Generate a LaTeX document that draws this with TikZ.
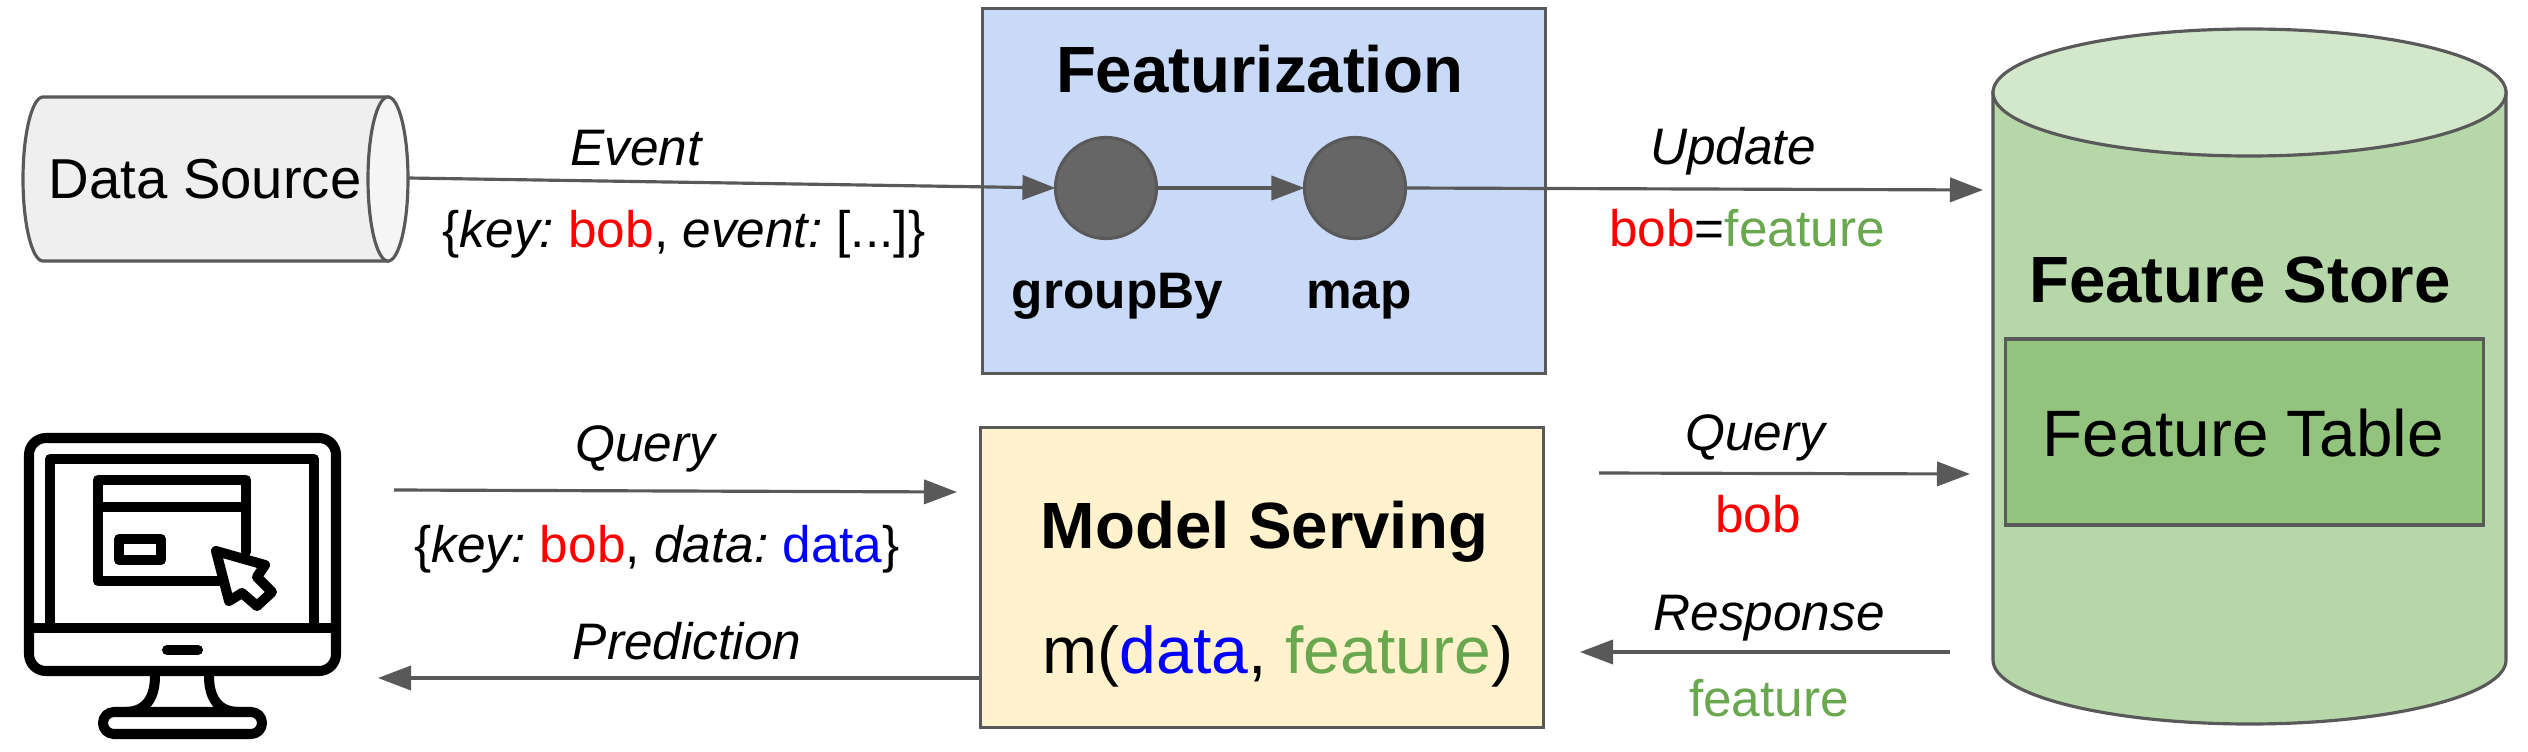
\documentclass[tikz,border=0pt]{standalone}
\usepackage{fontspec}
\setmainfont{Liberation Sans}
\usetikzlibrary{arrows.meta,shapes.geometric}
\definecolor{ln}{HTML}{595959}
\definecolor{bluebox}{HTML}{C9DAF8}
\definecolor{yellowbox}{HTML}{FFF2CC}
\definecolor{gryfill}{HTML}{EFEFEF}
\definecolor{gryend}{HTML}{F5F5F5}
\definecolor{cylbody}{HTML}{B6D7A8}
\definecolor{cyltop}{HTML}{D3E7CB}
\definecolor{tablefill}{HTML}{93C47D}
\definecolor{dotfill}{HTML}{666666}
\definecolor{keyred}{HTML}{FF0000}
\definecolor{datablue}{HTML}{0000FF}
\definecolor{featgreen}{HTML}{6AA84F}
\newcommand{\fsz}[1]{\fontsize{#1}{#1}\selectfont}
\newcommand{\kb}{\textcolor{keyred}{bob}}
\newcommand{\dt}{\textcolor{datablue}{data}}
\newcommand{\ft}{\textcolor{featgreen}{feature}}
\tikzset{
  x=0.01cm,y=-0.01cm,
  outline/.style={draw=ln,line width=0.9pt},
  boxn/.style={outline,rectangle,inner sep=0pt,outer sep=0pt},
  dot/.style={outline,circle,fill=dotfill,minimum size=1.01cm,inner sep=0pt,outer sep=0pt},
  conn/.style={draw=ln,line width=0.9pt,-{Triangle[length=9.4pt,width=6.9pt,fill=ln]}},
  lab/.style={anchor=base,inner sep=0pt,font=\frenchspacing\fsz{14.6}},
  title/.style={anchor=base,inner sep=0pt,font=\fsz{18.6}\bfseries},
  sub/.style={anchor=base,inner sep=0pt,font=\fsz{14.6}\bfseries},
  icon/.style={draw=black,line width=2.85pt,line join=round,line cap=round},
}
\begin{document}
\begin{tikzpicture}
\useasboundingbox (0,0) rectangle (2528,752);
% Data source cylinder
\path[outline,fill=gryfill] (43,97) -- (388,97) -- (388,261) -- (43,261)
  .. controls (32,261) and (23,224) .. (23,179)
  .. controls (23,134) and (32,97) .. (43,97) -- cycle;
\path[outline,fill=gryend] (388,179) ellipse [x radius=20, y radius=82];
\node[anchor=base,inner sep=0pt,font=\fsz{16}] (dslabel) at (205,199) {Data Source};
\coordinate (dsout) at (408,178);
% Boxes
\node[boxn,fill=bluebox,minimum width=5.62cm,minimum height=3.64cm] (feat) at (1264,191) {};
\node[boxn,fill=yellowbox,minimum width=5.62cm,minimum height=2.99cm] (model) at (1262,577.5) {};
\node[dot] (gb) at (1106,188) {};
\node[dot] (mp) at (1355,188) {};
\node[title] (feattitle) at (1259.5,93) {Featurization};
\node[sub] (gblabel) at (1117.5,309) {groupBy};
\node[sub] (mplabel) at (1359,309) {map};
\node[title] (modeltitle) at (1264.5,548) {Model Serving};
\node[anchor=base,inner sep=0pt,font=\frenchspacing\fsz{18.8}] (modelfn) at (1278,673) {m(\dt, \ft)};
% Feature store cylinder
\path[outline,fill=cylbody] (1993,92) -- (1993,660)
  .. controls (1993,695) and (2107.5,724) .. (2249.5,724)
  .. controls (2391.5,724) and (2506,695) .. (2506,660) -- (2506,92) -- cycle;
\path[outline,fill=cyltop] (2249.5,92.5) ellipse [x radius=256.5, y radius=63.5];
\node[boxn,fill=tablefill,minimum width=4.77cm,minimum height=1.86cm] (table) at (2244.5,432) {};
\node[title] (storelabel) at (2240,303) {Feature Store};
\node[anchor=base,inner sep=0pt,font=\fsz{18.65}] (tablelabel) at (2243,456) {Feature Table};
% Connector ends
\coordinate (updtip) at (1983,190);
\coordinate (qlfrom) at (394,490);
\coordinate (qlto) at (957,492);
\coordinate (predfrom) at (981,678);
\coordinate (predto) at (378,678);
\coordinate (qrfrom) at (1599,473);
\coordinate (qrto) at (1970,474);
\coordinate (rsfrom) at (1950,652);
\coordinate (rsto) at (1580,652);
\draw[conn] (dsout) -- (gb.west);
\draw[conn] (gb.east) -- (mp.west);
\draw[conn] (mp.east) -- (updtip);
\draw[conn] (qlfrom) -- (qlto);
\draw[conn] (predfrom) -- (predto);
\draw[conn] (qrfrom) -- (qrto);
\draw[conn] (rsfrom) -- (rsto);
% Labels
\node[lab] (l1) at (636,166) {\itshape Event};
\node[lab] (l2) at (684,248) {\{{\itshape key: }\kb, {\itshape event: }[...]\}};
\node[lab] (l3) at (1733,165) {\itshape Update};
\node[lab] (l4) at (1747,247) {\kb=\ft};
\node[lab] (l5) at (645,461) {\itshape Query};
\node[lab] (l6) at (657,562) {\{{\itshape key: }\kb, {\itshape data: }\dt\}};
\node[lab] (l7) at (687,659) {\itshape Prediction};
\node[lab] (l8) at (1755,450) {\itshape Query};
\node[lab] (l9) at (1758,532) {\kb};
\node[lab] (l10) at (1769,630) {\itshape Response};
\node[lab] (l11) at (1769,716) {\ft};
% Computer icon
\draw[icon,rounded corners=4.8pt] (29,438) rectangle (336,671);
\draw[icon] (50,628) -- (50,459) -- (314,459) -- (314,628);
\draw[icon] (29,628) -- (336,628);
\draw[icon] (167,650) -- (198,650);
\draw[icon] (155,676) .. controls (155,695) and (148,712) .. (125,712);
\draw[icon] (209,676) .. controls (209,695) and (216,712) .. (239,712);
\draw[icon,rounded corners=3.1pt] (103,712) rectangle (262,734);
\draw[icon] (246,552) -- (246,480) -- (98,480) -- (98,581) -- (222,581);
\draw[icon] (98,507) -- (246,507);
\draw[icon] (119,539) rectangle (161,560);
\draw[icon,fill=white] (216,551) -- (265,565) -- (257,577) -- (272,592) -- (257,606) -- (242,593) -- (229,601) -- cycle;
\end{tikzpicture}
\end{document}
